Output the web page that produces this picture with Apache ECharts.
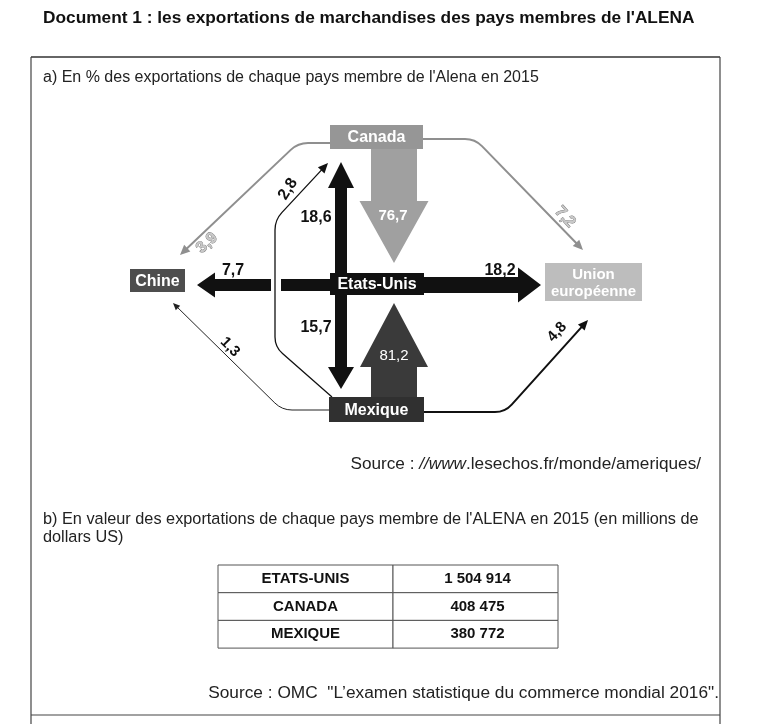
<!DOCTYPE html>
<html>
<head>
<meta charset="utf-8">
<script src="https://cdn.jsdelivr.net/npm/echarts@6/dist/echarts.min.js"></script>
<style>
html, body { margin: 0; padding: 0; background: #fff; }
#chart { width: 777px; height: 724px; }
</style>
</head>
<body>
<div id="chart"></div>
<script>
// a) flux en % des exportations de chaque pays (2015)
const countries = ['Canada', 'Etats-Unis', 'Mexique', 'Chine', 'Union\neuropéenne']
const flowFrom = ['Canada', 'Mexique', 'Etats-Unis', 'Etats-Unis', 'Etats-Unis', 'Etats-Unis', 'Canada', 'Canada', 'Mexique', 'Mexique', 'Mexique']
const flowTo = ['Etats-Unis', 'Etats-Unis', 'Canada', 'Mexique', 'Chine', 'Union\neuropéenne', 'Chine', 'Union\neuropéenne', 'Canada', 'Chine', 'Union\neuropéenne']
const flowValues = [76.7, 81.2, 18.6, 15.7, 7.7, 18.2, 3.9, 7.2, 2.8, 1.3, 4.8]

// b) valeur des exportations (millions de dollars US)
const tableCountries = ['ETATS-UNIS', 'CANADA', 'MEXIQUE']
const tableValues = [1504914, 408475, 380772]

const FONT = "'Liberation Sans', Arial, sans-serif"

// mise en page du schéma (pixels)
const nodeLayout = {
  'Canada': { box: [330, 125, 423, 149], color: '#969696' },
  'Etats-Unis': { box: [330, 273, 424, 295], color: '#111111' },
  'Mexique': { box: [329, 397, 424, 422], color: '#303030' },
  'Chine': { box: [130, 269, 185, 292], color: '#4d4d4d' },
  'Union\neuropéenne': { box: [545, 263, 642, 301], color: '#bdbdbd', size: 15 }
}
const flowLayout = [
  { kind: 'block', from: [394, 149], to: [394, 263], shaft: 46, head: 69, headLen: 62, color: '#a0a0a0', label: [393, 216], text: '#fff' },
  { kind: 'block', from: [394, 397], to: [394, 303], shaft: 46, head: 68, headLen: 64, color: '#3a3a3a', label: [394, 356], text: '#fff', weight: 'normal' },
  { kind: 'block', from: [341, 273], to: [341, 162], shaft: 12, head: 26, headLen: 26, color: '#111', label: [316, 218], size: 16 },
  { kind: 'block', from: [341, 295], to: [341, 389], shaft: 12, head: 26, headLen: 22, color: '#111', label: [316, 328], size: 16 },
  { kind: 'block', from: [330, 285], to: [197, 285], shaft: 12, head: 25, headLen: 18, gap: [49, 59], color: '#111', label: [233, 271], size: 16 },
  { kind: 'block', from: [424, 285], to: [541, 285], shaft: 16, head: 35, headLen: 23, color: '#111', label: [500, 271], size: 16 },
  { kind: 'line', path: [[330, 143], [298, 143], [180, 255]], width: 2, color: '#8f8f8f', label: [207, 243], rot: 43, text: '#c8c8c8', outline: '#777', size: 16 },
  { kind: 'line', path: [[423, 139], [475, 139], [583, 250]], width: 2, color: '#8f8f8f', label: [565, 217], rot: -48, text: '#c8c8c8', outline: '#777', size: 16 },
  { kind: 'line', path: [[332, 397], [275, 347], [275, 220], [328, 163]], width: 1.3, color: '#111', label: [288, 189], rot: 58, size: 16 },
  { kind: 'line', path: [[329, 410], [282, 410], [173, 303]], width: 1, color: '#222', label: [230, 347], rot: -45, headSize: 7 },
  { kind: 'line', path: [[424, 412], [505, 412], [588, 320]], width: 2, color: '#111', label: [557, 332], rot: 47 }
]

const fmtPct = v => v.toFixed(1).replace('.', ',')
const fmtNum = v => String(v).replace(/\B(?=(\d{3})+(?!\d))/g, ' ')

function unit(a, b) {
  const dx = b[0] - a[0], dy = b[1] - a[1]
  const l = Math.hypot(dx, dy)
  return [dx / l, dy / l]
}
function add(p, d, k) { return [p[0] + d[0] * k, p[1] + d[1] * k] }

function renderFlow(params, api) {
  const i = params.dataIndex
  const f = flowLayout[i]
  const c = p => api.coord(p)
  const children = []
  if (f.kind === 'block') {
    const d = unit(f.from, f.to)
    const n = [-d[1], d[0]]
    let start = f.from
    if (f.gap) {
      const g0 = add(f.from, d, f.gap[0])
      children.push({
        type: 'polygon',
        shape: { points: [add(f.from, n, f.shaft / 2), add(g0, n, f.shaft / 2), add(g0, n, -f.shaft / 2), add(f.from, n, -f.shaft / 2)].map(c) },
        style: { fill: f.color }
      })
      start = add(f.from, d, f.gap[1])
    }
    const base = add(f.to, d, -f.headLen)
    const pts = [
      add(start, n, f.shaft / 2), add(base, n, f.shaft / 2), add(base, n, f.head / 2), f.to,
      add(base, n, -f.head / 2), add(base, n, -f.shaft / 2), add(start, n, -f.shaft / 2)
    ]
    children.push({ type: 'polygon', shape: { points: pts.map(c) }, style: { fill: f.color } })
  } else {
    const p = f.path.map(c)
    const hs = f.headSize || 10
    const last = p[p.length - 1]
    const dEnd = unit(p[p.length - 2], last)
    const stop = add(last, dEnd, -hs * 0.8)
    let d = 'M' + p[0][0] + ' ' + p[0][1]
    const r = 10
    for (let k = 1; k < p.length - 1; k++) {
      const a = add(p[k], unit(p[k], p[k - 1]), r)
      const b = add(p[k], unit(p[k], p[k + 1]), r)
      d += ' L' + a[0] + ' ' + a[1] + ' Q' + p[k][0] + ' ' + p[k][1] + ' ' + b[0] + ' ' + b[1]
    }
    d += ' L' + stop[0] + ' ' + stop[1]
    children.push({ type: 'path', shape: { pathData: d }, style: { fill: null, stroke: f.color, lineWidth: f.width } })
    const nn = [-dEnd[1], dEnd[0]]
    const hb = add(last, dEnd, -hs)
    children.push({
      type: 'polygon',
      shape: { points: [last, add(hb, nn, hs * 0.45), add(hb, nn, -hs * 0.45)] },
      style: { fill: f.color }
    })
  }
  const lp = c(f.label)
  children.push({
    type: 'text',
    x: lp[0], y: lp[1],
    rotation: (f.rot || 0) * Math.PI / 180,
    style: {
      text: fmtPct(api.value(1)),
      fill: f.text || '#111',
      stroke: f.outline || null,
      lineWidth: f.outline ? 0.8 : 0,
      font: (f.weight || 'bold') + ' ' + (f.size || 15) + 'px ' + FONT,
      align: 'center', verticalAlign: 'middle'
    }
  })
  return { type: 'group', children }
}

function renderNode(params, api) {
  const name = countries[params.dataIndex]
  const L = nodeLayout[name]
  const p0 = api.coord([L.box[0], L.box[1]])
  const p1 = api.coord([L.box[2], L.box[3]])
  return {
    type: 'group',
    children: [
      { type: 'rect', shape: { x: p0[0], y: p0[1], width: p1[0] - p0[0], height: p1[1] - p0[1] }, style: { fill: L.color } },
      {
        type: 'text', x: (p0[0] + p1[0]) / 2, y: (p0[1] + p1[1]) / 2 + 1,
        style: {
          text: name, fill: '#fff', font: 'bold ' + (L.size || 16) + 'px ' + FONT,
          lineHeight: 17, align: 'center', verticalAlign: 'middle'
        }
      }
    ]
  }
}

// tableau b)
const tableBox = { left: 218, mid: 393, right: 558, top: 565, rowH: 27.7 }
function renderRow(params, api) {
  const i = params.dataIndex
  const t = tableBox
  const y0 = api.coord([0, t.top + i * t.rowH])[1]
  const y1 = api.coord([0, t.top + (i + 1) * t.rowH])[1]
  const xl = api.coord([t.left, 0])[0], xm = api.coord([t.mid, 0])[0], xr = api.coord([t.right, 0])[0]
  const cell = (x, w) => ({ type: 'rect', shape: { x: x, y: y0, width: w, height: y1 - y0 }, style: { fill: '#fff', stroke: '#555', lineWidth: 1 } })
  const txt = (x, s) => ({ type: 'text', x: x, y: (y0 + y1) / 2, style: { text: s, fill: '#111', font: 'bold 15px ' + FONT, align: 'center', verticalAlign: 'middle' } })
  return {
    type: 'group',
    children: [cell(xl, xm - xl), cell(xm, xr - xm), txt((xl + xm) / 2, tableCountries[i]), txt((xm + xr) / 2 + 2, fmtNum(api.value(1)))]
  }
}

const mychart = echarts.init(document.getElementById('chart'))
const option = {
  backgroundColor: '#fff',
  animation: false,
  grid: { left: 0, right: 0, top: 0, bottom: 0 },
  xAxis: { type: 'value', min: 0, max: 777, show: false },
  yAxis: { type: 'value', min: 0, max: 724, inverse: true, show: false },
  graphic: [
    { type: 'line', shape: { x1: 31, y1: 57, x2: 720, y2: 57 }, style: { stroke: '#333', lineWidth: 1.5 } },
    { type: 'line', shape: { x1: 31, y1: 57, x2: 31, y2: 724 }, style: { stroke: '#444', lineWidth: 1.2 } },
    { type: 'line', shape: { x1: 720, y1: 57, x2: 720, y2: 724 }, style: { stroke: '#444', lineWidth: 1.2 } },
    { type: 'line', shape: { x1: 31, y1: 715, x2: 720, y2: 715 }, style: { stroke: '#444', lineWidth: 1.2 } },
    { type: 'text', x: 43, y: 18, style: { text: "Document 1 : les exportations de marchandises des pays membres de l'ALENA", font: 'bold 17.3px ' + FONT, fill: '#111', verticalAlign: 'middle' } },
    { type: 'text', x: 43, y: 78, style: { text: "a) En % des exportations de chaque pays membre de l'Alena en 2015", font: '16px ' + FONT, fill: '#222', verticalAlign: 'middle' } },
    {
      type: 'text', x: 701, y: 464,
      style: {
        text: 'Source : {i|//www}.lesechos.fr/monde/ameriques/', font: '17.2px ' + FONT, fill: '#222', align: 'right', verticalAlign: 'middle',
        rich: { i: { fontStyle: 'italic', fontSize: 17.2, fontFamily: FONT, fill: '#222' } }
      }
    },
    { type: 'text', x: 43, y: 511, style: { text: "b) En valeur des exportations de chaque pays membre de l'ALENA en 2015 (en millions de\ndollars US)", font: '16.3px ' + FONT, lineHeight: 18, fill: '#222', verticalAlign: 'top' } },
    { type: 'text', x: 719, y: 693, style: { text: 'Source : OMC  "L\u2019examen statistique du commerce mondial 2016".', font: '17.3px ' + FONT, fill: '#222', align: 'right', verticalAlign: 'middle' } }
  ],
  series: [
    { type: 'custom', name: 'flux', renderItem: renderFlow, data: flowValues.map((v, i) => [i, v]), z: 2, silent: true },
    { type: 'custom', name: 'pays', renderItem: renderNode, data: countries.map((n, i) => [i, 0]), z: 3, silent: true },
    { type: 'custom', name: 'tableau', renderItem: renderRow, data: tableValues.map((v, i) => [i, v]), z: 3, silent: true }
  ]
}
option && mychart.setOption(option)
</script>
</body>
</html>
